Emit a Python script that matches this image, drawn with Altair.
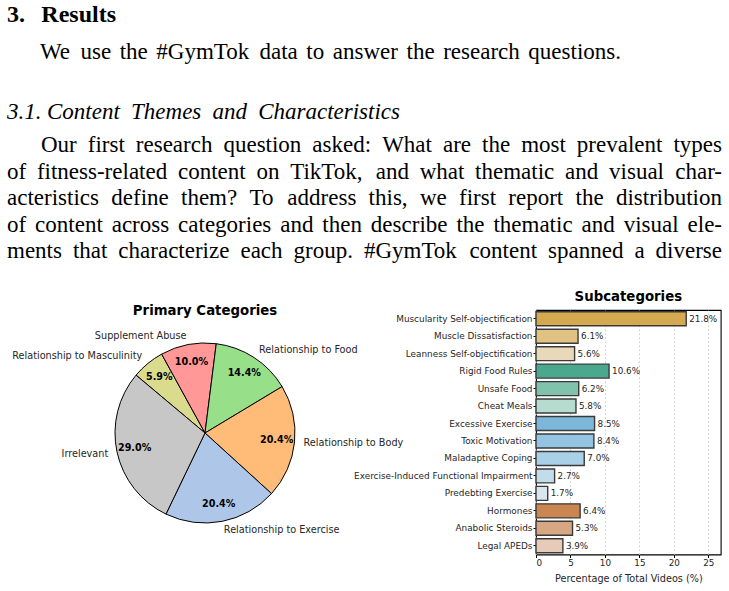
import math
import altair as alt
import pandas as pd

# ---------------- text of the page ----------------
heading = "3. Results"
intro = "We use the #GymTok data to answer the research questions."
subsection = "3.1. Content Themes and Characteristics"
para_lines = [
    "Our first research question asked: What are the most prevalent types",
    "of fitness-related content on TikTok, and what thematic and visual char-",
    "acteristics define them? To address this, we first report the distribution",
    "of content across categories and then describe the thematic and visual ele-",
    "ments that characterize each group. #GymTok content spanned a diverse",
]

# ---------------- pie data ----------------
pie_title = "Primary Categories"
primary_categories = ["Relationship to Masculinity", "Supplement Abuse", "Relationship to Food",
                      "Relationship to Body", "Relationship to Exercise", "Irrelevant"]
primary_values = [5.9, 10.0, 14.4, 20.4, 20.4, 29.0]
primary_colors = ["#dbdb8d", "#ff9896", "#98df8a", "#ffbb78", "#aec7e8", "#c7c7c7"]

# ---------------- bar data ----------------
bar_title = "Subcategories"
sub_names = ["Muscularity Self-objectification", "Muscle Dissatisfaction", "Leanness Self-objectification",
             "Rigid Food Rules", "Unsafe Food", "Cheat Meals",
             "Excessive Exercise", "Toxic Motivation", "Maladaptive Coping",
             "Exercise-Induced Functional Impairment", "Predebting Exercise",
             "Hormones", "Anabolic Steroids", "Legal APEDs"]
sub_values = [21.8, 6.1, 5.6, 10.6, 6.2, 5.8, 8.5, 8.4, 7.0, 2.7, 1.7, 6.4, 5.3, 3.9]
sub_colors = ["#d4a94f", "#e0c283", "#e9d9b8",
              "#4aa88c", "#80c2ab", "#b6dccf",
              "#7cb7da", "#94c4e1", "#a9d0e6", "#c3dcec", "#d9e6ef",
              "#c98650", "#d7a683", "#e7cbb8"]
x_ticks = [0, 5, 10, 15, 20, 25]
x_title = "Percentage of Total Videos (%)"

SERIF = "Liberation Serif"
SANS = "DejaVu Sans"

# ---------- approximate glyph advance widths (Times metrics, 1/1000 em) ----------
TR = {' ': 250, '#': 500, ',': 250, '-': 333, '.': 250, ':': 278, '?': 444, '%': 833,
      'A': 722, 'B': 667, 'C': 667, 'D': 722, 'E': 611, 'F': 556, 'G': 722, 'H': 722, 'I': 333,
      'J': 389, 'K': 722, 'L': 611, 'M': 889, 'N': 722, 'O': 722, 'P': 556, 'Q': 722, 'R': 667,
      'S': 556, 'T': 611, 'U': 722, 'V': 722, 'W': 944, 'X': 722, 'Y': 722, 'Z': 611,
      'a': 444, 'b': 500, 'c': 444, 'd': 500, 'e': 444, 'f': 333, 'g': 500, 'h': 500, 'i': 278,
      'j': 278, 'k': 500, 'l': 278, 'm': 778, 'n': 500, 'o': 500, 'p': 500, 'q': 500, 'r': 333,
      's': 389, 't': 278, 'u': 500, 'v': 500, 'w': 722, 'x': 500, 'y': 500, 'z': 444}
TI = dict(TR, **{'C': 667, 'T': 556, 'a': 500, 'f': 278, 'm': 722, 'r': 389, 'k': 444})
TB = dict(TR, **{'R': 722, 'e': 444, 's': 389, 'u': 556, 'l': 278, 't': 333})


def word_w(word, table, size):
    return sum(table.get(c, 500) for c in word) * size / 1000.0


def justify(line, x0, x1, y, table, size):
    words = line.split(" ")
    widths = [word_w(w, table, size) for w in words]
    gap = (x1 - x0 - sum(widths)) / max(1, len(words) - 1)
    rows, x = [], x0
    for i, (w, wd) in enumerate(zip(words, widths)):
        last = i == len(words) - 1 and len(words) > 1
        rows.append({"word": w, "x": x1 if last else x, "y": y, "last": last})
        x += wd + gap
    return rows


def words_layers(rows, size, weight="normal", style="normal"):
    df = pd.DataFrame(rows)
    out = []
    for last, align in ((False, "left"), (True, "right")):
        out.append(alt.Chart(df).transform_filter(
            "datum.last" if last else "!datum.last").mark_text(
            align=align, baseline="alphabetic", font=SERIF, fontSize=size,
            fontWeight=weight, fontStyle=style, color="black").encode(
            x=alt.X("x:Q", scale=None, axis=None),
            y=alt.Y("y:Q", scale=None, axis=None),
            text="word:N"))
    return out


BODY = 23
rows_head = justify(heading, 7, 116, 22.3, TB, 24)
rows_intro = justify(intro, 40, 621, 59.3, TR, BODY)
rows_sub = [{"word": "3.1.", "x": 7, "y": 119.3, "last": False}] + \
    justify(subsection.split(" ", 1)[1], 47, 400, 119.3, TI, BODY)
rows_para = []
for i, ln in enumerate(para_lines):
    rows_para += justify(ln, 41 if i == 0 else 7, 722, 152.3 + i * 26.5, TR, BODY)

top = alt.layer(
    *words_layers(rows_head, 24, weight="bold"),
    *words_layers(rows_intro + rows_para, BODY),
    *words_layers(rows_sub, BODY, style="italic"),
).properties(width=729, height=310)

# ================= pie =================
total = sum(primary_values)
start = 2 * math.pi - math.radians(50)
pie_df = pd.DataFrame({"idx": list(range(len(primary_categories))),
                       "cat": primary_categories, "value": primary_values})
theta_scale = alt.Scale(domain=[0, total], range=[start, start + 2 * math.pi])
cx, cy, R = 205, 123, 90
center = dict(x=alt.value(cx), y=alt.value(cy))

arcs = alt.Chart(pie_df).mark_arc(outerRadius=R, stroke="black", strokeWidth=1).encode(
    theta=alt.Theta("value:Q", stack=True, scale=theta_scale),
    order=alt.Order("idx:Q"),
    color=alt.Color("cat:N", scale=alt.Scale(domain=primary_categories, range=primary_colors), legend=None),
    **center,
)

lab_base = alt.Chart(pie_df).transform_window(
    cum="sum(value)", sort=[alt.SortField("idx")], frame=[None, 0]
).transform_calculate(
    mid="datum.cum - datum.value / 2",
    side=f"sin({start} + (datum.cum - datum.value / 2) / {total} * 2 * PI) > 0 ? 'right' : 'left'",
    pct="format(datum.value, '.1f') + '%'",
)
theta_mid = alt.Theta("mid:Q", stack=False, scale=theta_scale)

pct_labels = lab_base.mark_text(radius=0.8 * R, font=SANS, fontSize=9.6, fontWeight="bold",
                                color="black", align="center", baseline="middle").encode(
    theta=theta_mid, text="pct:N", **center)
right_labels = lab_base.transform_filter("datum.side == 'right'").mark_text(
    radius=1.1 * R, font=SANS, fontSize=9.7, color="#262626", align="left", baseline="middle").encode(
    theta=theta_mid, text="cat:N", **center)
left_labels = lab_base.transform_filter("datum.side == 'left'").mark_text(
    radius=1.1 * R, font=SANS, fontSize=9.7, color="#262626", align="right", baseline="middle").encode(
    theta=theta_mid, text="cat:N", **center)
pie_title_layer = alt.Chart(pd.DataFrame({"t": [pie_title]})).mark_text(
    font=SANS, fontSize=13.3, fontWeight="bold", color="black", align="center", baseline="alphabetic"
).encode(x=alt.value(cx), y=alt.value(5), text="t:N")

pie = alt.layer(arcs, pct_labels, right_labels, left_labels, pie_title_layer).properties(
    width=536, height=281)

# ================= bars =================
bar_df = pd.DataFrame({"name": sub_names, "pct": sub_values})
xenc = alt.X("pct:Q", scale=alt.Scale(domain=[0, 26.8], nice=False, zero=True),
             axis=alt.Axis(values=x_ticks, format="d", grid=True, gridDash=[1.5, 2.5],
                           gridColor="#bdbdbd", gridWidth=0.8, tickSize=3, tickColor="black",
                           domain=False, labelFont=SANS, labelFontSize=8.8, labelColor="#262626",
                           labelPadding=1, title=x_title, titleFont=SANS, titleFontSize=9.7,
                           titleFontWeight="normal", titleColor="#262626", titlePadding=6))
yenc = alt.Y("name:N", sort=sub_names, scale=alt.Scale(paddingInner=0.2, paddingOuter=0.1),
             axis=alt.Axis(title=None, tickSize=3, tickColor="black", domain=False, grid=False,
                           labelFont=SANS, labelFontSize=8.9, labelColor="#262626",
                           labelPadding=1, labelLimit=400))
bars = alt.Chart(bar_df).mark_bar(stroke="#3a3a3a", strokeWidth=1.4).encode(
    x=xenc, y=yenc,
    color=alt.Color("name:N", scale=alt.Scale(domain=sub_names, range=sub_colors), legend=None),
)
bar_labels = alt.Chart(bar_df).transform_calculate(
    lbl="format(datum.pct, '.1f') + '%'"
).mark_text(align="left", baseline="middle", dx=3, font=SANS, fontSize=8.8, color="#262626").encode(
    x=xenc, y=yenc, text="lbl:N")
bar_title_layer = alt.Chart(pd.DataFrame({"t": [bar_title]})).mark_text(
    font=SANS, fontSize=13.3, fontWeight="bold", color="black", align="center", baseline="alphabetic"
).encode(x=alt.value(92.35), y=alt.value(-9.3), text="t:N")

bar = alt.layer(bars, bar_labels, bar_title_layer).properties(
    width=184.7, height=244.5, view=alt.ViewBackground(stroke="black", strokeWidth=1.1))

chart = alt.vconcat(
    top,
    alt.hconcat(pie, bar, spacing=0, bounds="flush").resolve_scale(color="independent"),
    spacing=0, bounds="flush",
).properties(padding=0, background="white").configure_view(stroke=None)

chart.save("out.html", embed_options={"renderer": "svg", "actions": False})
